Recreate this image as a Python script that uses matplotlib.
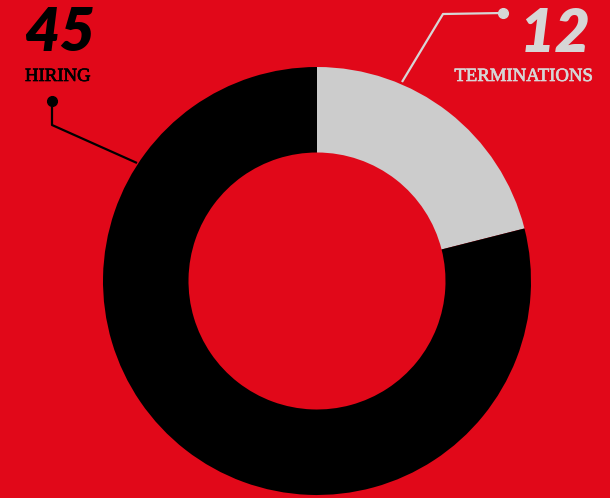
import matplotlib
matplotlib.use("Agg")
import matplotlib.pyplot as plt
import matplotlib.patheffects as pe

# Headcount movements
categories = ["TERMINATIONS", "HIRING"]
counts = [12, 45]

BG = "#E10819"
GRAY = "#CCCCCC"
BLACK = "#000000"
LABEL_GRAY = "#D6D6D6"

W, H = 610, 498
fig = plt.figure(figsize=(W / 100, H / 100), dpi=100, facecolor=BG)
ax = fig.add_axes([0, 0, 1, 1])
ax.set_facecolor(BG)

cx, cy = 317, H - 281
R = 214
ring = 85.5

ax.pie(counts, colors=[GRAY, BLACK], startangle=90, counterclock=False,
       center=(cx, cy), radius=R, frame=True,
       wedgeprops=dict(width=ring, linewidth=0))

ax.set_xlim(0, W)
ax.set_ylim(0, H)
ax.set_aspect("equal")
ax.axis("off")


def py(y):
    return H - y


# Leader for hiring
hx = [52, 52, 137]
hy = [py(101), py(125), py(163)]
ax.plot(hx, hy, color=BLACK, lw=1.6, solid_capstyle="butt", zorder=5)
ax.plot(hx[0], hy[0], "o", color=BLACK, ms=7, zorder=6)

# Leader for terminations
tx = [503, 443, 402]
ty = [py(13), py(14), py(82)]
ax.plot(tx, ty, color=LABEL_GRAY, lw=1.6, solid_capstyle="butt", zorder=5)
ax.plot(tx[0], ty[0], "o", color=LABEL_GRAY, ms=7, zorder=6)

num_font = dict(family=["Lato", "DejaVu Sans"], weight="heavy", style="italic",
                fontsize=44)
lab_font = dict(family=["Liberation Serif", "DejaVu Serif"], fontsize=13.5)

ax.text(24, py(51), str(counts[1]), color=BLACK, ha="left", va="baseline",
        **num_font)
ax.text(25, py(81), categories[1], color=BLACK, ha="left", va="baseline",
        path_effects=[pe.withStroke(linewidth=0.5, foreground=BLACK)],
        **lab_font)

ax.text(591, py(52), str(counts[0]), color=LABEL_GRAY, ha="right",
        va="baseline", **num_font)
ax.text(593, py(81), categories[0], color=LABEL_GRAY, ha="right",
        va="baseline",
        path_effects=[pe.withStroke(linewidth=0.5, foreground=LABEL_GRAY)],
        **lab_font)

fig.savefig("out.png", dpi=100, facecolor=BG)
